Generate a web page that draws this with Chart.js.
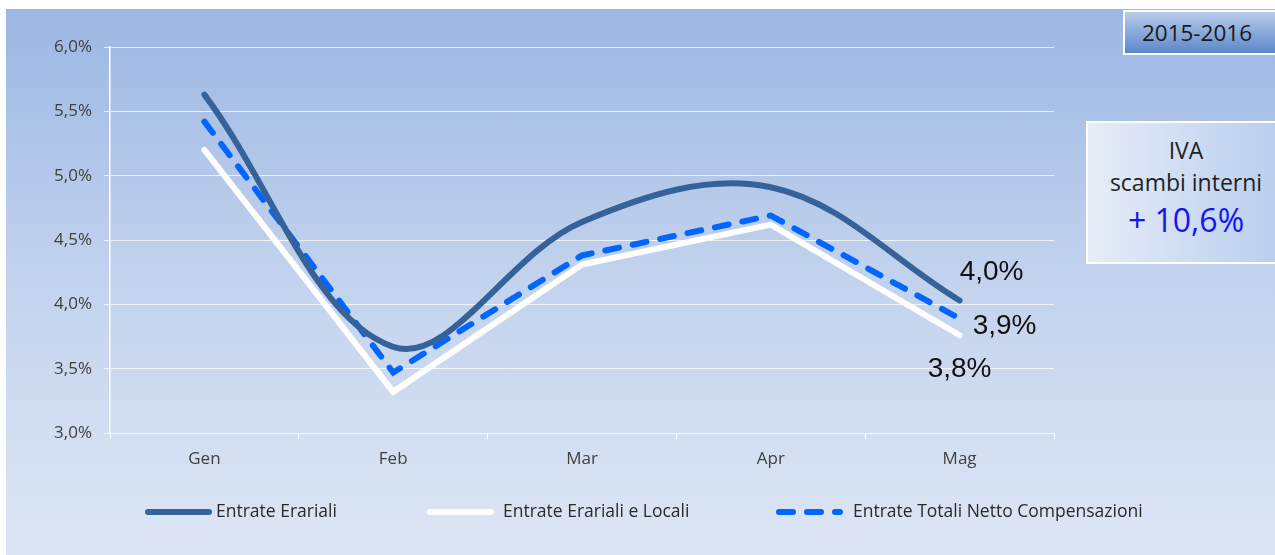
<!DOCTYPE html>
<html>
<head>
<meta charset="utf-8">
<script src="https://cdn.jsdelivr.net/npm/chart.js@4.4.1/dist/chart.umd.min.js"></script>
<style>
  html, body { margin: 0; padding: 0; background: #fff; }
  #wrap { position: relative; width: 1275px; height: 555px; overflow: hidden; }
  #bg { position: absolute; left: 6px; top: 9px; width: 1269px; height: 546px;
        background: linear-gradient(to bottom, #9cb7e3 0%, #c3d3ee 50%, #dde6f4 100%); }
  #chart { position: absolute; left: 0; top: 0; }
  .box { position: absolute; box-sizing: border-box; border: 2px solid #fff;
         font-family: "Open Sans", "Noto Sans", sans-serif; text-align: center; color: #222; }
  #period { left: 1123px; top: 10px; width: 160px; height: 45px; padding-right: 12px;
            background: linear-gradient(to bottom, #b9cbea 0%, #5b88c9 100%);
            font-size: 22.5px; line-height: 41px; color: #1a1a1a; }
  #iva { left: 1086px; top: 121px; width: 200px; height: 143px;
         background: linear-gradient(to right, #e6edf8 0%, #b8cdef 100%);
         font-size: 23px; line-height: 32px; padding-top: 11px; }
  #iva .big { color: #1414f5; font-size: 32px; line-height: 44px; }
</style>
</head>
<body>
<div id="wrap">
  <div id="bg"></div>
  <canvas id="chart" width="1275" height="555"></canvas>
  <div class="box" id="period">2015-2016</div>
  <div class="box" id="iva">IVA<br>scambi interni<br><span class="big">+ 10,6%</span></div>
</div>
<script>
// mesi
const mesi = ['Gen', 'Feb', 'Mar', 'Apr', 'Mag'];

// variazioni % cumulate
const entrateErariali = [5.63, 3.67, 4.64, 4.91, 4.03];
const entrateErarialiLocali = [5.20, 3.32, 4.31, 4.62, 3.76];
const entrateTotaliNetto = [5.42, 3.47, 4.38, 4.69, 3.89];

const yTicks = [3.0, 3.5, 4.0, 4.5, 5.0, 5.5, 6.0];

const fmt = v => v.toFixed(1).replace('.', ',') + '%';
const axisFont = { family: '"Open Sans", "Noto Sans", sans-serif', size: 17 };

// etichette sull'ultimo punto
const lastLabelOffsets = [[32, -28], [0, 34], [45, 8]];
const lastLabels = {
  id: 'lastLabels',
  afterDatasetsDraw(chart) {
    const ctx = chart.ctx;
    ctx.save();
    ctx.font = '28px "Liberation Sans", Arial, sans-serif';
    ctx.fillStyle = '#111';
    ctx.textAlign = 'center';
    ctx.textBaseline = 'middle';
    chart.data.datasets.forEach((ds, i) => {
      const pts = chart.getDatasetMeta(i).data;
      const p = pts[pts.length - 1];
      const off = lastLabelOffsets[i];
      ctx.fillText(fmt(ds.data[ds.data.length - 1]), p.x + off[0], p.y + off[1]);
    });
    ctx.restore();
  }
};

// legenda in basso
const legendPos = [[148, 209, 216], [430, 491, 503], [779, 840, 853]];
const bottomLegend = {
  id: 'bottomLegend',
  afterDraw(chart) {
    const ctx = chart.ctx;
    const y = 512;
    ctx.save();
    chart.data.datasets.forEach((ds, i) => {
      const [x1, x2, tx] = legendPos[i];
      ctx.beginPath();
      ctx.lineCap = 'round';
      ctx.lineWidth = ds.borderWidth;
      ctx.strokeStyle = ds.borderColor;
      ctx.setLineDash(ds.borderDash || []);
      ctx.moveTo(x1, y);
      ctx.lineTo(x2, y);
      ctx.stroke();
      ctx.setLineDash([]);
      ctx.font = '17.5px "Open Sans", "Noto Sans", sans-serif';
      ctx.fillStyle = '#2a2a2a';
      ctx.textAlign = 'left';
      ctx.textBaseline = 'middle';
      ctx.fillText(ds.label, tx, y);
    });
    ctx.restore();
  }
};

new Chart(document.getElementById('chart'), {
  type: 'line',
  data: {
    labels: mesi,
    datasets: [
      {
        label: 'Entrate Erariali',
        data: entrateErariali,
        borderColor: '#36629a',
        borderWidth: 6,
        tension: 0.36,
        borderCapStyle: 'round',
        pointRadius: 0,
        fill: false
      },
      {
        label: 'Entrate Erariali e Locali',
        data: entrateErarialiLocali,
        borderColor: '#ffffff',
        borderWidth: 6,
        tension: 0,
        borderCapStyle: 'round',
        pointRadius: 0,
        fill: false
      },
      {
        label: 'Entrate Totali Netto Compensazioni',
        data: entrateTotaliNetto,
        borderColor: '#0066ff',
        borderWidth: 6,
        borderDash: [14, 14],
        borderCapStyle: 'round',
        tension: 0,
        pointRadius: 0,
        fill: false
      }
    ]
  },
  options: {
    responsive: false,
    animation: false,
    layout: { padding: { top: 47, right: 221, bottom: 82, left: 0 } },
    plugins: { legend: { display: false }, tooltip: { enabled: false } },
    scales: {
      x: {
        offset: true,
        grid: { drawOnChartArea: false, tickLength: 6, color: 'rgba(255,255,255,0.9)', offset: true },
        border: { display: false },
        ticks: { color: '#404040', font: axisFont, padding: 10 },
        afterFit: s => { s.height = 40; }
      },
      y: {
        min: yTicks[0],
        max: yTicks[yTicks.length - 1],
        afterBuildTicks: s => { s.ticks = yTicks.map(v => ({ value: v })); },
        ticks: { color: '#404040', font: axisFont, padding: 12, callback: v => fmt(v) },
        grid: { color: 'rgba(255,255,255,0.75)', tickLength: 6, lineWidth: 1 },
        border: { color: '#ffffff', width: 1.5 },
        afterFit: s => { s.width = 110; }
      }
    }
  },
  plugins: [lastLabels, bottomLegend]
});
</script>
</body>
</html>
